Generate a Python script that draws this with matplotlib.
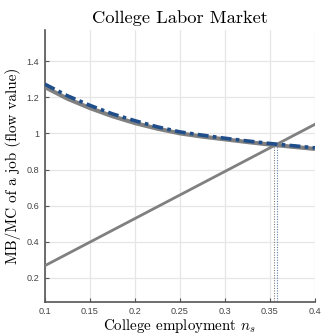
import matplotlib
matplotlib.use("Agg")
import matplotlib.pyplot as plt
import numpy as np

# College employment share grid and the three curves read at each grid point
n_s = [0.10, 0.125, 0.15, 0.175, 0.20, 0.225, 0.25, 0.275, 0.30, 0.325, 0.35, 0.375, 0.40]
mb_model = [1.256, 1.192, 1.140, 1.095, 1.057, 1.026, 1.000, 0.982, 0.967, 0.952, 0.938, 0.926, 0.914]
mb_approx = [1.272, 1.208, 1.155, 1.108, 1.070, 1.036, 1.008, 0.990, 0.973, 0.958, 0.944, 0.932, 0.920]
mc_ends_x = [0.10, 0.40]
mc_ends_y = [0.268, 1.050]
eq_model = 0.354
eq_approx = 0.358
eq_value = 0.940

x_ticks = [0.1, 0.15, 0.2, 0.25, 0.3, 0.35, 0.4]
x_tick_labels = ["0.1", "0.15", "0.2", "0.25", "0.3", "0.35", "0.4"]
y_ticks = [0.2, 0.4, 0.6, 0.8, 1.0, 1.2, 1.4]
y_tick_labels = ["0.2", "0.4", "0.6", "0.8", "1", "1.2", "1.4"]

plt.rcParams["mathtext.fontset"] = "cm"

fig = plt.figure(figsize=(3.23, 3.35), dpi=100)
ax = fig.add_axes([0.139, 0.0985, 0.836, 0.812])

grey = "#808080"
blue = "#1f4e8a"

ax.plot(n_s, mb_model, color=grey, lw=3.0, solid_capstyle="butt", zorder=3)
ax.plot(n_s, mb_approx, color=blue, lw=2.6, linestyle=(0, (3.0, 1.2, 1.0, 1.2)), zorder=4)
ax.plot(mc_ends_x, mc_ends_y, color=grey, lw=2.0, zorder=3)
ax.plot([eq_model, eq_model], [0.0, eq_value], color=grey, lw=0.8, linestyle=(0, (1, 1.3)), zorder=2)
ax.plot([eq_approx, eq_approx], [0.0, eq_value], color="#5b7fb5", lw=0.8, linestyle=(0, (1, 1.3)), zorder=2)

ax.set_xlim(0.1, 0.4)
ax.set_ylim(0.067, 1.572)
ax.set_xticks(x_ticks)
ax.set_xticklabels(x_tick_labels)
ax.set_yticks(y_ticks)
ax.set_yticklabels(y_tick_labels)
ax.grid(True, color="#e6e6e6", lw=0.9)
ax.set_axisbelow(True)

for side in ("top", "right"):
    ax.spines[side].set_visible(False)
for side in ("left", "bottom"):
    ax.spines[side].set_color("#555555")
    ax.spines[side].set_linewidth(1.2)

ax.tick_params(direction="in", length=3, width=0.8, colors="#555555",
               labelsize=6.6, labelcolor="#444444", pad=4)
ax.tick_params(axis="x", pad=3.5)
for lab in ax.get_xticklabels() + ax.get_yticklabels():
    lab.set_family("Liberation Sans")

ax.set_title("College Labor Market", family="cmr10", fontsize=13.3, pad=5)
ax.set_xlabel(r"College employment $n_s$", family="cmr10", fontsize=10.8, labelpad=0.5)
ax.set_ylabel("MB/MC of a job (flow value)", family="cmr10", fontsize=10.9, labelpad=4)

fig.savefig("out.png", dpi=100)
